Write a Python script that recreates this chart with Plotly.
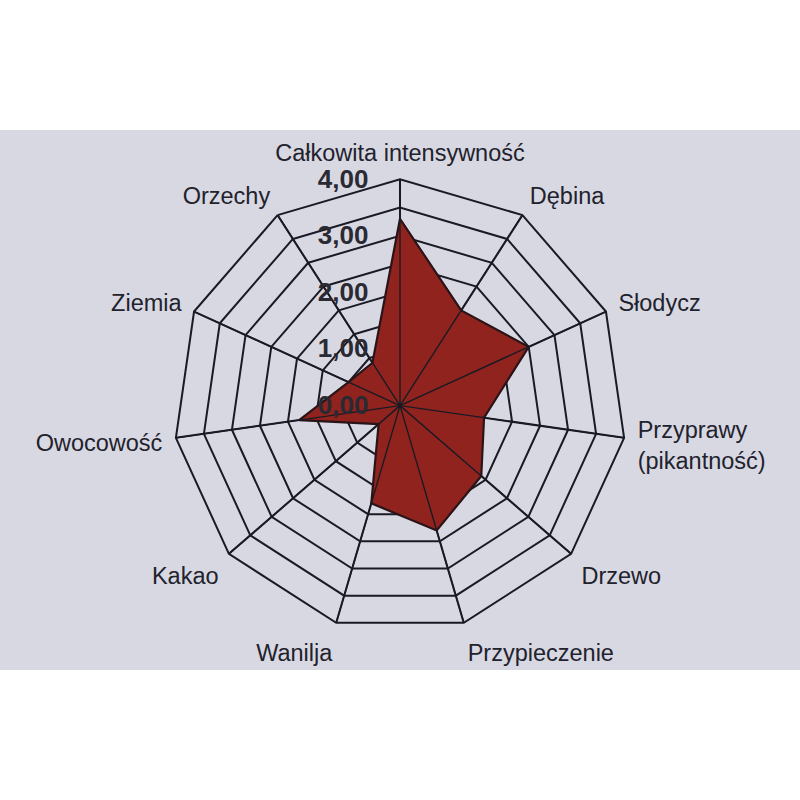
import plotly.graph_objects as go

categories = ["Całkowita intensywność", "Dębina", "Słodycz", "Przyprawy<br>(pikantność)",
              "Drzewo", "Przypieczenie", "Wanilja", "Kakao", "Owocowość", "Ziemia", "Orzechy"]
values = [3.3, 2.0, 2.5, 1.5, 1.9, 2.3, 1.8, 0.5, 1.8, 1.0, 0.9]

tick_vals = [0, 0.5, 1, 1.5, 2, 2.5, 3, 3.5, 4]
tick_text = ["0,00", "", "1,00", "", "2,00", "", "3,00", "", "4,00"]
r_max = 4

PAPER = "#d8d8e3"
INK = "#1a1a24"

fig = go.Figure()

fig.add_trace(go.Scatterpolar(
    r=values + [values[0]],
    theta=categories + [categories[0]],
    mode="lines",
    fill="toself",
    fillcolor="#90231e",
    line=dict(color="#2a1418", width=2.2),
    hoverinfo="skip",
    showlegend=False,
))

# spokes drawn over the filled area
spoke_r, spoke_t = [], []
for c in categories:
    spoke_r += [0, r_max, None]
    spoke_t += [c, c, c]
fig.add_trace(go.Scatterpolar(
    r=spoke_r, theta=spoke_t, mode="lines",
    line=dict(color=INK, width=1.4),
    connectgaps=False, hoverinfo="skip", showlegend=False,
))

fig.update_layout(
    width=800, height=800,
    margin=dict(l=0, r=0, t=0, b=0),
    paper_bgcolor="white",
    separators=", ",
    font=dict(family="Liberation Sans, Arial, sans-serif", color="#22222c"),
    shapes=[dict(type="rect", xref="paper", yref="paper",
                 x0=0, x1=1, y0=1 - 670 / 800, y1=1 - 130 / 800,
                 fillcolor=PAPER, line=dict(width=0), layer="below")],
    polar=dict(
        domain=dict(x=[0.217, 0.783], y=[0.21, 0.776]),
        bgcolor="rgba(0,0,0,0)",
        gridshape="linear",
        angularaxis=dict(
            rotation=90, direction="clockwise",
            showline=True, linecolor=INK, linewidth=2,
            showgrid=True, gridcolor=INK, gridwidth=1.6,
            ticks="outside", ticklen=8, tickcolor="rgba(0,0,0,0)",
            tickfont=dict(size=23.5, color="#22222c"),
        ),
        radialaxis=dict(
            range=[0, r_max], angle=90, tickangle=90,
            side="counterclockwise",
            tickvals=tick_vals, ticktext=tick_text,
            showline=False, showgrid=True, gridcolor=INK, gridwidth=1.6,
            ticks="outside", ticklen=22, tickcolor="rgba(0,0,0,0)",
            tickfont=dict(size=26, color="#2a2a33", family="Liberation Sans, Arial, sans-serif", weight="bold"),
        ),
    ),
)

fig.write_html("out.html", config={"displayModeBar": False},
               post_script="document.body.style.margin='0';")
